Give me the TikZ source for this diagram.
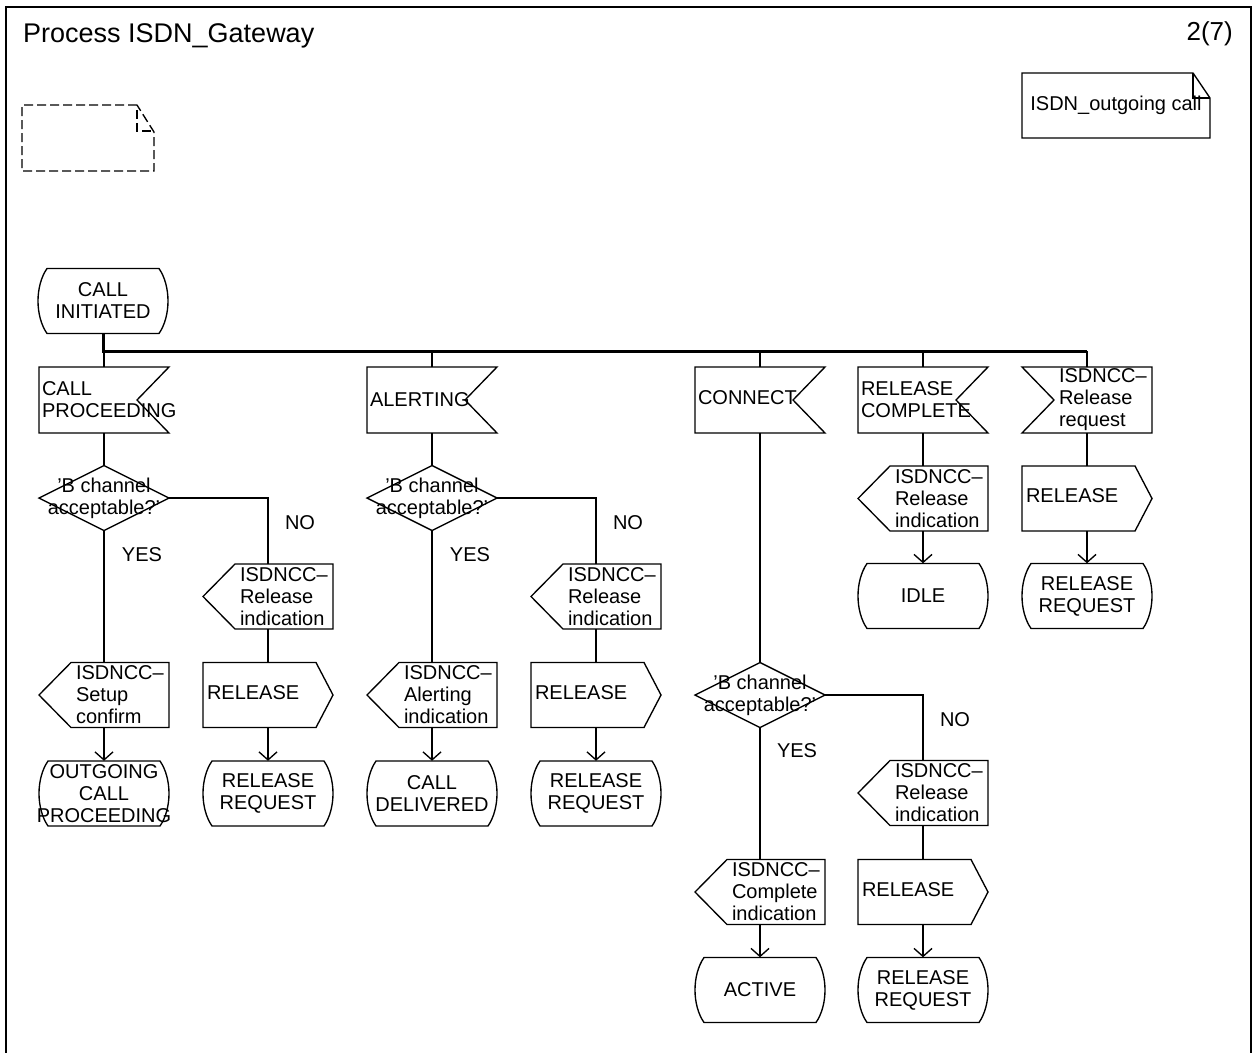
\documentclass[tikz,border=0pt]{standalone}
\usepackage{fontspec}
\setmainfont{Liberation Sans}
\usetikzlibrary{arrows.meta,calc}
\newcommand\shpIn[1]{\begin{scope}[shift={(#1.center)}]\draw[ln] (-65,-33) -- (65,-33) -- (33,0) -- (65,33) -- (-65,33) -- cycle;\end{scope}}
\newcommand\shpInL[1]{\begin{scope}[shift={(#1.center)}]\draw[ln] (-65,-33) -- (65,-33) -- (65,33) -- (-65,33) -- (-33,0) -- cycle;\end{scope}}
\newcommand\shpOutL[1]{\begin{scope}[shift={(#1.center)}]\draw[ln] (-33,-32.5) -- (65,-32.5) -- (65,32.5) -- (-33,32.5) -- (-65,0) -- cycle;\end{scope}}
\newcommand\shpOutR[1]{\begin{scope}[shift={(#1.center)}]\draw[ln] (-65,-32.5) -- (48,-32.5) -- (65,0) -- (48,32.5) -- (-65,32.5) -- cycle;\end{scope}}
\newcommand\shpDec[1]{\begin{scope}[shift={(#1.center)}]\draw[ln] (-65,0) -- (0,-32.5) -- (65,0) -- (0,32.5) -- cycle;\end{scope}}
\newcommand\shpState[1]{\begin{scope}[shift={(#1.center)}]\draw[ln] (-56,-32.5) -- (56,-32.5) .. controls (68,-15) and (68,15) .. (56,32.5) -- (-56,32.5) .. controls (-68,15) and (-68,-15) .. (-56,-32.5) -- cycle;\end{scope}}
\newcommand\upthree[1]{\raisebox{3pt}[14pt][0pt]{#1}}
\begin{document}
\begin{tikzpicture}[x=1pt,y=-1pt,
  every node/.style={font=\fontsize{20}{22}\selectfont, inner sep=0pt},
  ln/.style={line width=1.35pt},
  bus/.style={line width=3pt},
  arr/.style={ln, -{Straight Barb[length=8pt,width=18pt]}},
  base/.style={minimum width=130pt, minimum height=65pt},
  sdlin/.style={base, minimum height=66pt, inner xsep=3pt, text width=124pt, align=left},
  sdlinl/.style={sdlin, execute at begin node={\leftskip=34pt}},
  sdloutl/.style={base, inner xsep=3pt, text width=124pt, align=left, execute at begin node={\leftskip=34pt}},
  sdloutr/.style={base, inner xsep=4pt, text width=122pt, align=left},
  state/.style={base, align=center},
  dec/.style={base, align=center}
]
\useasboundingbox (0,0) rectangle (1255,1052);
\draw[line width=1.7pt] (6,1060) -- (6,7) -- (1251,7) -- (1251,1060);
\node[font=\fontsize{27}{29}\selectfont, anchor=base west] (title) at (23,42) {Process ISDN\_Gateway};
\node[font=\fontsize{26}{28}\selectfont, anchor=base east] (page) at (1233,40) {2(7)};

% comment symbols
\node[minimum width=132pt, minimum height=66pt] (cmt) at (88,138) {};
\begin{scope}[shift={(cmt.center)}]
\draw[ln, dash pattern=on 9pt off 4pt] (49,-33) -- (-66,-33) -- (-66,33) -- (66,33) -- (66,-6) -- cycle;
\draw[ln, dash pattern=on 9pt off 4pt] (49,-28) -- (49,-7) -- (66,-7);
\end{scope}
\node[minimum width=188pt, minimum height=65pt] (note) at (1116,105.5) {\raisebox{-4pt}{ISDN\_outgoing call}};
\begin{scope}[shift={(note.center)}]
\draw[ln] (77,-32.5) -- (-94,-32.5) -- (-94,32.5) -- (94,32.5) -- (94,-7.5) -- cycle;
\draw[ln] (77,-32.5) -- (77,-7.5) -- (94,-7.5);
\end{scope}

% start state and bus
\node[state] (ci) at (103,301) {CALL\\INITIATED}; \shpState{ci}
\coordinate (busL) at (103,351);
\coordinate (busR) at (1087,351);
\draw[bus] (ci.south) -- (busL) -- (busR);

% column 1
\node[sdlin] (in1) at (104,400) {CALL\\PROCEEDING}; \shpIn{in1}
\node[dec] (d1) at (104,498) {’B channel\\acceptable?’}; \shpDec{d1}
\node[sdloutl] (o1y) at (104,695) {ISDNCC–\\Setup\\confirm}; \shpOutL{o1y}
\node[state] (s1y) at (104,793.5) {OUTGOING\\CALL\\PROCEEDING}; \shpState{s1y}
\node[sdloutl] (o1n) at (268,596.5) {ISDNCC–\\Release\\indication}; \shpOutL{o1n}
\node[sdloutr] (r1n) at (268,695) {\upthree{RELEASE}}; \shpOutR{r1n}
\node[state] (s1n) at (268,793.5) {RELEASE\\REQUEST}; \shpState{s1n}
\node (yes1) at (142,555) {YES};
\node (no1) at (300,523) {NO};

% column 2
\node[sdlin] (in2) at (432,400) {ALERTING}; \shpIn{in2}
\node[dec] (d2) at (432,498) {’B channel\\acceptable?’}; \shpDec{d2}
\node[sdloutl] (o2y) at (432,695) {ISDNCC–\\Alerting\\indication}; \shpOutL{o2y}
\node[state] (s2y) at (432,793.5) {CALL\\DELIVERED}; \shpState{s2y}
\node[sdloutl] (o2n) at (596,596.5) {ISDNCC–\\Release\\indication}; \shpOutL{o2n}
\node[sdloutr] (r2n) at (596,695) {\upthree{RELEASE}}; \shpOutR{r2n}
\node[state] (s2n) at (596,793.5) {RELEASE\\REQUEST}; \shpState{s2n}
\node (yes2) at (470,555) {YES};
\node (no2) at (628,523) {NO};

% column 3
\node[sdlin] (in3) at (760,400) {\upthree{CONNECT}}; \shpIn{in3}
\node[dec] (d3) at (760,695) {’B channel\\acceptable?’}; \shpDec{d3}
\node[sdloutl] (o3y) at (760,892) {ISDNCC–\\Complete\\indication}; \shpOutL{o3y}
\node[state] (s3y) at (760,990) {ACTIVE}; \shpState{s3y}
\node[sdloutl] (o3n) at (923,793) {ISDNCC–\\Release\\indication}; \shpOutL{o3n}
\node[sdloutr] (r3n) at (923,892) {\upthree{RELEASE}}; \shpOutR{r3n}
\node[state] (s3n) at (923,990) {RELEASE\\REQUEST}; \shpState{s3n}
\node (yes3) at (797,751) {YES};
\node (no3) at (955,720) {NO};

% column 4
\node[sdlin] (in4) at (923,400) {RELEASE\\COMPLETE}; \shpIn{in4}
\node[sdloutl] (o4) at (923,498.5) {ISDNCC–\\Release\\indication}; \shpOutL{o4}
\node[state] (s4) at (923,596) {IDLE}; \shpState{s4}

% column 5
\node[sdlinl] (in5) at (1087,400) {ISDNCC–\\Release\\request}; \shpInL{in5}
\node[sdloutr] (r5) at (1087,498.5) {\upthree{RELEASE}}; \shpOutR{r5}
\node[state] (s5) at (1087,596) {RELEASE\\REQUEST}; \shpState{s5}

% connectors
\foreach \n in {in1,in2,in3,in4,in5} {\draw[ln] (\n.north |- busL) -- (\n.north);}
\foreach \c in {1,2,3} {
  \draw[ln] (in\c.south) -- (d\c.north);
  \draw[ln] (d\c.south) -- (o\c y.north);
  \draw[arr] (o\c y.south) -- (s\c y.north);
  \draw[ln] (d\c.east) -| (o\c n.north);
  \draw[ln] (o\c n.south) -- (r\c n.north);
  \draw[arr] (r\c n.south) -- (s\c n.north);
}
\draw[ln] (in4.south) -- (o4.north);
\draw[arr] (o4.south) -- (s4.north);
\draw[ln] (in5.south) -- (r5.north);
\draw[arr] (r5.south) -- (s5.north);
\end{tikzpicture}
\end{document}
